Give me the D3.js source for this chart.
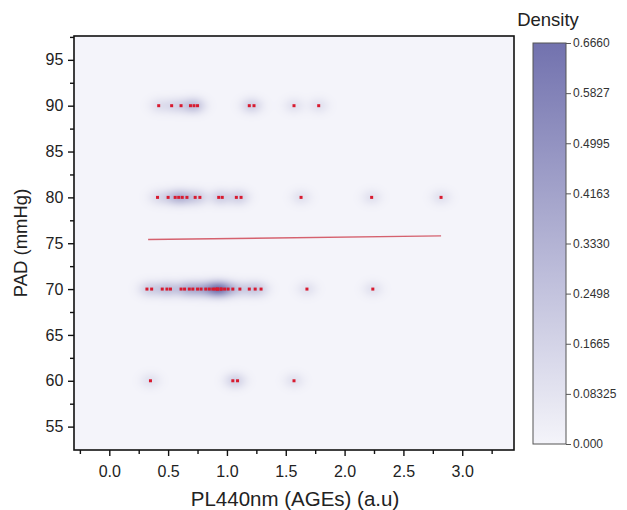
<!DOCTYPE html>
<html>
<head>
<meta charset="utf-8">
<script src="https://cdn.jsdelivr.net/npm/d3@7"></script>
<style>
  html, body { margin: 0; padding: 0; background: #fff; }
  svg { display: block; font-family: Arial, "Liberation Sans", sans-serif; }
</style>
</head>
<body>
<svg id="chart" width="627" height="510"></svg>
<script>
// PL440nm (AGEs) values observed at each PAD level
const padLevels = [90, 80, 70, 60];
const pl90 = [0.42, 0.53, 0.61, 0.69, 0.72, 0.75, 1.19, 1.23, 1.57, 1.78];
const pl80 = [0.41, 0.50, 0.56, 0.59, 0.62, 0.66, 0.73, 0.77, 0.93, 0.96, 1.08, 1.12, 1.63, 2.23, 2.82];
const pl70 = [0.32, 0.36, 0.45, 0.49, 0.52, 0.61, 0.64, 0.68, 0.71, 0.75, 0.78, 0.82, 0.85, 0.88, 0.90,
              0.92, 0.92, 0.95, 0.95, 0.98, 1.01, 1.05, 1.11, 1.19, 1.24, 1.29, 1.68, 2.24];
const pl60 = [0.35, 1.05, 1.09, 1.57];

// Linear fit endpoints
const fitX = [0.33, 2.82];
const fitY = [75.4, 75.8];

// Axis ticks
const xTicks = [0.0, 0.5, 1.0, 1.5, 2.0, 2.5, 3.0];
const yTicks = [55, 60, 65, 70, 75, 80, 85, 90, 95];
const densityTicks = [0.000, 0.08325, 0.1665, 0.2498, 0.3330, 0.4163, 0.4995, 0.5827, 0.6660];
const densityLabels = ["0.000", "0.08325", "0.1665", "0.2498", "0.3330", "0.4163", "0.4995", "0.5827", "0.6660"];

const FONT = "Arial, 'Liberation Sans', sans-serif";
const svg = d3.select("#chart");
const plot = { left: 74, top: 36, right: 514, bottom: 450 };

const x = d3.scaleLinear().domain([-0.3, 3.44]).range([plot.left, plot.right]);
const y = d3.scaleLinear().domain([52.45, 97.6]).range([plot.bottom, plot.top]);

const points = [];
[pl90, pl80, pl70, pl60].forEach((arr, i) => arr.forEach(v => points.push({ x: v, y: padLevels[i] })));

const color = d3.scaleLinear()
  .domain([0, 0.666])
  .range(["#f4f4fa", "#7272ae"])
  .clamp(true);

// Kernel density heat map rendered into an image
const W = plot.right - plot.left, H = plot.bottom - plot.top;
const canvas = document.createElement("canvas");
canvas.width = W; canvas.height = H;
const ctx = canvas.getContext("2d");
const img = ctx.createImageData(W, H);
const sx = 7, sy = 5.5;
const pp = points.map(p => [x(p.x) - plot.left, y(p.y) - plot.top]);
const dens = new Float64Array(W * H);
let dmax = 0;
for (let j = 0; j < H; j++) {
  for (let i = 0; i < W; i++) {
    let s = 0;
    for (const [px, py] of pp) {
      const dx = (i + 0.5 - px) / sx, dy = (j + 0.5 - py) / sy;
      const q = dx * dx + dy * dy;
      if (q < 25) s += Math.exp(-0.5 * q);
    }
    dens[j * W + i] = s;
    if (s > dmax) dmax = s;
  }
}
for (let k = 0; k < W * H; k++) {
  const c = d3.rgb(color(dens[k] / dmax * 0.666));
  img.data[4 * k] = c.r; img.data[4 * k + 1] = c.g; img.data[4 * k + 2] = c.b; img.data[4 * k + 3] = 255;
}
ctx.putImageData(img, 0, 0);
svg.append("image")
  .attr("x", plot.left).attr("y", plot.top)
  .attr("width", W).attr("height", H)
  .attr("href", canvas.toDataURL());

// Fit line
svg.append("line")
  .attr("x1", x(fitX[0])).attr("y1", y(fitY[0]))
  .attr("x2", x(fitX[1])).attr("y2", y(fitY[1]))
  .attr("stroke", "#d5616e").attr("stroke-width", 1.4);

// Scatter points
svg.append("g").selectAll("rect").data(points).join("rect")
  .attr("x", d => x(d.x) - 1.5).attr("y", d => y(d.y) - 1.5)
  .attr("width", 3).attr("height", 3)
  .attr("fill", "#d81b30");

// Frame
svg.append("rect")
  .attr("x", plot.left).attr("y", plot.top).attr("width", W).attr("height", H)
  .attr("fill", "none").attr("stroke", "#111").attr("stroke-width", 1.6);

// X axis
const xAxis = svg.append("g").attr("transform", `translate(0,${plot.bottom})`);
xAxis.call(d3.axisBottom(x).tickValues(d3.range(-0.25, 3.3, 0.5)).tickSize(4).tickFormat(""))
  .call(g => g.select(".domain").remove());
xAxis.append("g").call(d3.axisBottom(x).tickValues(xTicks).tickSize(6).tickFormat(d3.format(".1f")))
  .call(g => g.select(".domain").remove())
  .call(g => g.selectAll("text").attr("font-size", 16).attr("fill", "#222").attr("dy", "1.12em").attr("font-family", FONT));
xAxis.selectAll(".tick line").attr("stroke", "#111").attr("stroke-width", 1.4);

// Y axis
const yAxis = svg.append("g").attr("transform", `translate(${plot.left},0)`);
yAxis.call(d3.axisLeft(y).tickValues(d3.range(57.5, 97.6, 5)).tickSize(4).tickFormat(""))
  .call(g => g.select(".domain").remove());
yAxis.append("g").call(d3.axisLeft(y).tickValues(yTicks).tickSize(6))
  .call(g => g.select(".domain").remove())
  .call(g => g.selectAll("text").attr("font-size", 16).attr("fill", "#222").attr("dx", "-0.1em").attr("font-family", FONT));
yAxis.selectAll(".tick line").attr("stroke", "#111").attr("stroke-width", 1.4);

// Axis titles
svg.append("text")
  .attr("x", (plot.left + plot.right) / 2 + 1).attr("y", 501)
  .attr("text-anchor", "middle").attr("dominant-baseline", "middle")
  .attr("font-size", 20.5).attr("fill", "#222").attr("font-family", FONT)
  .text("PL440nm (AGEs) (a.u)");
svg.append("text")
  .attr("transform", `translate(22,${(plot.top + plot.bottom) / 2}) rotate(-90)`)
  .attr("text-anchor", "middle").attr("dominant-baseline", "middle")
  .attr("font-size", 18.5).attr("fill", "#222").attr("font-family", FONT)
  .text("PAD (mmHg)");

// Color bar
const cb = { left: 533, right: 566, top: 43, bottom: 444 };
const cy = d3.scaleLinear().domain([0, 0.666]).range([cb.bottom, cb.top]);
const defs = svg.append("defs");
const grad = defs.append("linearGradient").attr("id", "densGrad")
  .attr("x1", 0).attr("y1", 1).attr("x2", 0).attr("y2", 0);
grad.selectAll("stop").data(d3.range(0, 1.0001, 0.1)).join("stop")
  .attr("offset", d => d)
  .attr("stop-color", d => color(d * 0.666));
svg.append("rect")
  .attr("x", cb.left).attr("y", cb.top).attr("width", cb.right - cb.left).attr("height", cb.bottom - cb.top)
  .attr("fill", "url(#densGrad)").attr("stroke", "#555").attr("stroke-width", 1);
const cAxis = svg.append("g").attr("transform", `translate(${cb.right},0)`)
  .call(d3.axisRight(cy).tickValues(densityTicks).tickSize(5).tickFormat((d, i) => densityLabels[i]));
cAxis.select(".domain").remove();
cAxis.selectAll(".tick line").attr("stroke", "#555");
cAxis.selectAll("text").attr("font-size", 12).attr("fill", "#333").attr("x", 7)
  .attr("font-family", FONT);
svg.append("text")
  .attr("x", 548).attr("y", 21)
  .attr("text-anchor", "middle").attr("dominant-baseline", "middle")
  .attr("font-size", 18.5).attr("fill", "#222").attr("font-family", FONT)
  .text("Density");
</script>
</body>
</html>
